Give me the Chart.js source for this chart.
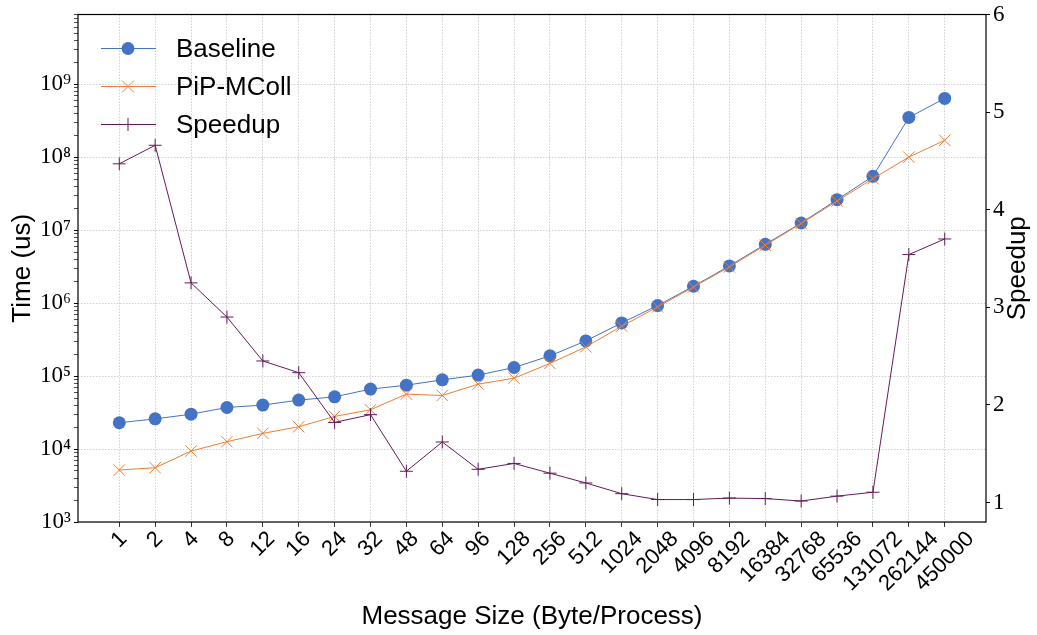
<!DOCTYPE html>
<html>
<head>
<meta charset="utf-8">
<script src="https://cdn.jsdelivr.net/npm/chart.js@4"></script>
<style>
  body { margin: 0; background: #fff; }
  #wrap { width: 1037px; height: 635px; }
</style>
</head>
<body>
<div id="wrap"><canvas id="chart"></canvas></div>
<script>
// Message sizes (x categories)
const sizes = ['1', '2', '4', '8', '12', '16', '24', '32', '48', '64', '96', '128', '256', '512',
  '1024', '2048', '4096', '8192', '16384', '32768', '65536', '131072', '262144', '450000']

// Time (us)
const baseline = [22900, 25900, 30000, 37100, 40000, 46800, 51900, 66200, 75000, 88700, 103000,
  131000, 189000, 303000, 535000, 925000, 1.70e6, 3.23e6, 6.39e6, 1.25e7, 2.61e7, 5.46e7, 3.50e8, 6.37e8]
const pipMColl = [5150, 5540, 9370, 12600, 16400, 20200, 28000, 34500, 56500, 54200, 77400,
  93500, 149000, 251000, 482000, 885000, 1.66e6, 3.13e6, 6.19e6, 1.23e7, 2.50e7, 5.07e7, 1.00e8, 1.70e8]

// Speedup (right axis)
const speedup = [4.47, 4.66, 3.25, 2.90, 2.45, 2.33, 1.82, 1.90, 1.32, 1.62, 1.34,
  1.40, 1.30, 1.20, 1.09, 1.03, 1.03, 1.045, 1.04, 1.015, 1.065, 1.105, 3.54, 3.70]

const timeTicks = [1e3, 1e4, 1e5, 1e6, 1e7, 1e8, 1e9]
const speedupTicks = [1, 2, 3, 4, 5, 6]

const SUP = { '0': '⁰', '1': '¹', '2': '²', '3': '³', '4': '⁴', '5': '⁵', '6': '⁶', '7': '⁷', '8': '⁸', '9': '⁹' }
const BLUE = '#4472C4'
const ORANGE = '#ED7D31'
const PURPLE = '#631a5a'
const GRID = '#c4c4c4'
const SANS = "'Liberation Sans', Arial, sans-serif"
const SERIF = "'Liberation Serif', 'DejaVu Serif', serif"

const pts = (arr) => arr.map((v, i) => ({ x: i, y: v }))

// log axis: majors at decades, minors 2..9 inside each decade
function logTicks(scale) {
  const out = []
  for (let e = 3; e <= 9; e++) {
    for (let m = 1; m <= 9; m++) {
      const v = m * Math.pow(10, e)
      if (v >= scale.min && v <= scale.max) out.push({ value: v, major: m === 1 })
    }
  }
  scale.ticks = out
}

const isMajor = (ctx) => ctx.tick && timeTicks.includes(ctx.tick.value)

// frame, legend, centred rotated x labels and the right-hand title
const framePlugin = {
  id: 'frame',
  afterDraw(chart) {
    const { ctx, chartArea: a } = chart
    ctx.save()
    ctx.strokeStyle = '#000'
    ctx.lineWidth = 1.2
    ctx.strokeRect(a.left, a.top, a.right - a.left, a.bottom - a.top)

    // legend
    const x0 = a.left + 23, x1 = a.left + 78, mx = a.left + 50
    chart.data.datasets.forEach((ds, i) => {
      const y = a.top + 34 + i * 38
      ctx.strokeStyle = ds.borderColor
      ctx.lineWidth = 1
      ctx.beginPath(); ctx.moveTo(x0, y); ctx.lineTo(x1, y); ctx.stroke()
      const r = ds.pointRadius
      ctx.fillStyle = ds.pointBackgroundColor
      ctx.beginPath()
      if (ds.pointStyle === 'circle') {
        ctx.arc(mx, y, r, 0, Math.PI * 2); ctx.fill()
      } else if (ds.pointStyle === 'crossRot') {
        const d = r * 0.75
        ctx.moveTo(mx - d, y - d); ctx.lineTo(mx + d, y + d)
        ctx.moveTo(mx + d, y - d); ctx.lineTo(mx - d, y + d); ctx.stroke()
      } else {
        ctx.moveTo(mx - r, y); ctx.lineTo(mx + r, y)
        ctx.moveTo(mx, y - r); ctx.lineTo(mx, y + r); ctx.stroke()
      }
      ctx.fillStyle = '#000'
      ctx.font = '26px ' + SANS
      ctx.textBaseline = 'middle'
      ctx.textAlign = 'left'
      ctx.fillText(ds.label, a.left + 98, y + 1)
    })

    // x tick labels, rotated 45 deg about their centre
    const xs = chart.scales.x
    ctx.font = '22px ' + SANS
    ctx.textAlign = 'center'
    ctx.textBaseline = 'middle'
    const h = 16
    sizes.forEach((lab, i) => {
      const w = ctx.measureText(lab).width
      const cx = xs.getPixelForValue(i)
      const cy = a.bottom + 8 + (w + h) * Math.SQRT1_2 / 2
      ctx.save()
      ctx.translate(cx, cy)
      ctx.rotate(-Math.PI / 4)
      ctx.fillText(lab, 0, 0)
      ctx.restore()
    })

    // right axis title, reading upwards
    const ys = chart.scales.y2
    ctx.save()
    ctx.font = '26px ' + SANS
    ctx.translate(1018, (ys.top + ys.bottom) / 2)
    ctx.rotate(-Math.PI / 2)
    ctx.fillText('Speedup', 0, 0)
    ctx.restore()
    ctx.restore()
  }
}

new Chart(document.getElementById('chart'), {
  type: 'line',
  data: {
    datasets: [
      {
        label: 'Baseline', data: pts(baseline), yAxisID: 'y', order: 3,
        borderColor: BLUE, borderWidth: 1, pointStyle: 'circle', pointRadius: 6.5,
        pointBackgroundColor: BLUE, pointBorderColor: BLUE, pointBorderWidth: 0
      },
      {
        label: 'PiP-MColl', data: pts(pipMColl), yAxisID: 'y', order: 2,
        borderColor: ORANGE, borderWidth: 1, pointStyle: 'crossRot', pointRadius: 8,
        pointBackgroundColor: ORANGE, pointBorderColor: ORANGE, pointBorderWidth: 1
      },
      {
        label: 'Speedup', data: pts(speedup), yAxisID: 'y2', order: 1,
        borderColor: PURPLE, borderWidth: 1, pointStyle: 'cross', pointRadius: 6.5,
        pointBackgroundColor: PURPLE, pointBorderColor: PURPLE, pointBorderWidth: 1
      }
    ]
  },
  options: {
    responsive: true,
    maintainAspectRatio: false,
    animation: false,
    layout: { padding: { top: 13 } },
    plugins: { legend: { display: false }, tooltip: { enabled: false } },
    scales: {
      x: {
        type: 'linear', min: -1.15, max: 24.15,
        afterBuildTicks: (s) => { s.ticks = sizes.map((_, i) => ({ value: i })) },
        afterFit: (s) => { s.height = 113 },
        ticks: { display: false },
        grid: { color: GRID, lineWidth: 0.8, tickColor: '#000', tickLength: 5, tickBorderDash: [] },
        border: { display: false, dash: [1.5, 1.5] },
        title: { display: true, text: 'Message Size (Byte/Process)', color: '#000',
          font: { family: SANS, size: 26 }, padding: { top: 0, bottom: 3 } }
      },
      y: {
        type: 'logarithmic', position: 'left', min: 1e3, max: 9e9,
        afterBuildTicks: logTicks,
        afterFit: (s) => { s.width = 78 },
        ticks: {
          autoSkip: false, padding: 3, color: '#000', font: { family: SERIF, size: 23, lineHeight: 1 },
          callback: (v) => timeTicks.includes(v) ? '10' + String(Math.round(Math.log10(v))).split('').map(c => SUP[c]).join('') : ''
        },
        grid: {
          color: (c) => isMajor(c) ? GRID : 'rgba(0,0,0,0)',
          lineWidth: 0.8,
          tickColor: '#000', tickLength: 4, tickBorderDash: [],
          tickWidth: (c) => isMajor(c) ? 1 : 0.7
        },
        border: { display: false, dash: [1.5, 1.5] },
        title: { display: true, text: 'Time (us)', color: '#000',
          font: { family: SANS, size: 26 }, padding: { top: 7, bottom: 0 } }
      },
      y2: {
        type: 'linear', position: 'right', min: 0.8, max: 6,
        afterBuildTicks: (s) => { s.ticks = speedupTicks.map(v => ({ value: v })) },
        afterFit: (s) => { s.width = 51 },
        ticks: { padding: 3, color: '#000', font: { family: SERIF, size: 23, lineHeight: 1 } },
        grid: { drawOnChartArea: false, tickColor: '#000', tickLength: 4 },
        border: { display: false }
      }
    }
  },
  plugins: [framePlugin]
})
</script>
</body>
</html>
